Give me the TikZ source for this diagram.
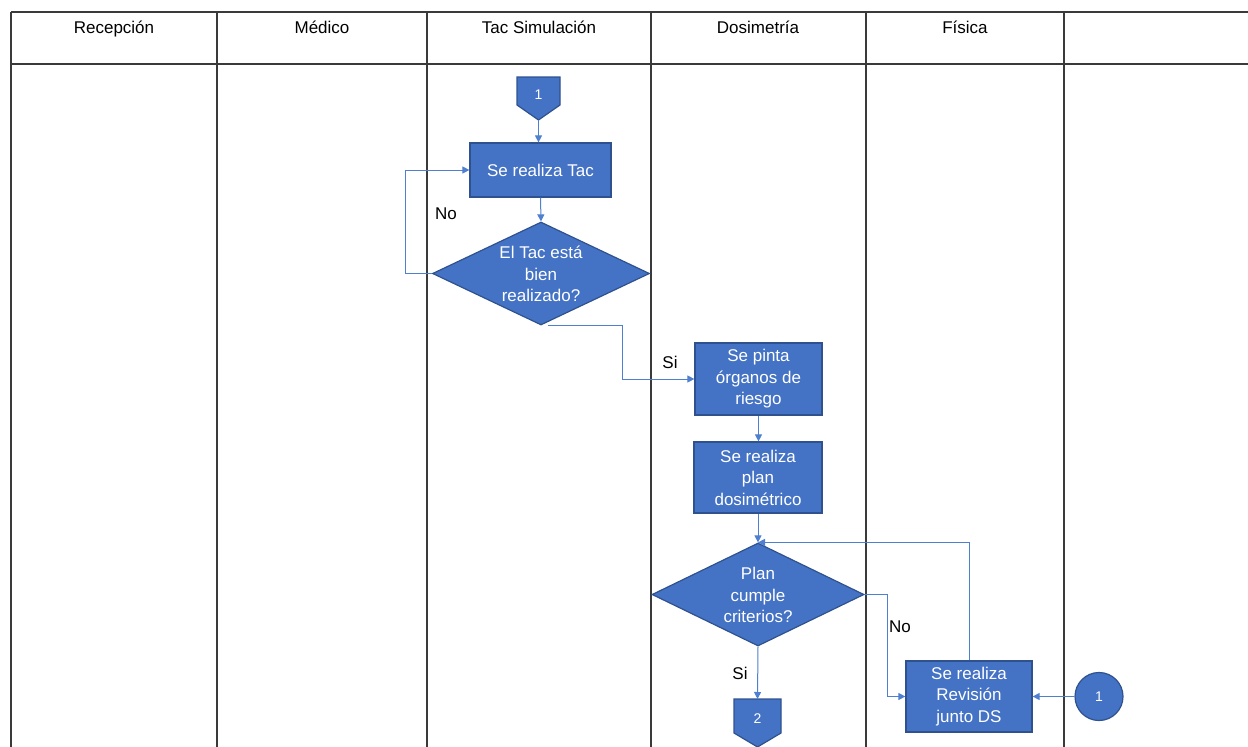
\documentclass[tikz,border=0pt]{standalone}
\usepackage{fontspec}
\setmainfont{Liberation Sans}
\usetikzlibrary{shapes.geometric,arrows.meta,calc}
\definecolor{shapeblue}{HTML}{4472C4}
\definecolor{shapeedge}{HTML}{2F528F}
\definecolor{flowblue}{HTML}{4F7FD0}
\definecolor{gridline}{HTML}{3A3A3A}
\begin{document}
\begin{tikzpicture}[x=1pt,y=-1pt,
  lane/.style={draw=gridline,line width=1.5pt},
  lanehead/.style={font=\fontsize{17}{20}\selectfont,inner sep=0pt,anchor=base},
  procbox/.style={rectangle,fill=shapeblue,draw=shapeedge,line width=1.2pt,inner sep=0pt,
    text=white,align=center,font=\fontsize{17}{21.5}\selectfont},
  decision/.style={diamond,fill=shapeblue,draw=shapeedge,line width=1.2pt,inner sep=0pt},
  shapetext/.style={text=white,align=center,font=\fontsize{17}{21.5}\selectfont,inner sep=0pt},
  pagelink/.style={fill=shapeblue,draw=shapeedge,line width=1.2pt,line join=miter},
  linktext/.style={text=white,font=\fontsize{14}{16}\selectfont,inner sep=0pt},
  flow/.style={draw=flowblue,line width=1pt,-{Triangle[length=7pt,width=7pt]}},
  flowlabel/.style={font=\fontsize{17}{20}\selectfont,inner sep=0pt}
]
\useasboundingbox (0,0) rectangle (1248,747);

% swimlane grid
\draw[lane] (11,12) -- (1248,12);
\draw[lane] (11,64) -- (1248,64);
\foreach \x in {11,217,427,651,866,1064}
  \draw[lane] (\x,12) -- (\x,747);

% lane headers
\node[lanehead] (h1) at (114,33) {Recepción};
\node[lanehead] (h2) at (322,33) {Médico};
\node[lanehead] (h3) at (539,33) {Tac Simulación};
\node[lanehead] (h4) at (758,33) {Dosimetría};
\node[lanehead] (h5) at (965,33) {Física};

% off-page connector 1 (entry)
\coordinate (c1) at (538.5,91);
\filldraw[pagelink] ($(c1)+(-21.5,-14)$) -- ($(c1)+(21.5,-14)$) -- ($(c1)+(21.5,14)$)
  -- ($(c1)+(0,29)$) -- ($(c1)+(-21.5,14)$) -- cycle;
\node[linktext] (c1t) at ($(c1)+(0,4)$) {1};
\coordinate (c1tip) at ($(c1)+(0,29)$);

% process steps
\node[procbox,minimum width=141pt,minimum height=54pt] (b1) at (540.5,170) {Se realiza Tac};
\node[decision,minimum width=217pt,minimum height=103pt] (d1) at (541,273.5) {};
\node[shapetext] (d1t) at (541,274) {El Tac está\\bien\\realizado?};

\node[procbox,minimum width=127pt,minimum height=72pt] (b2) at (758.5,379) {Se pinta\\órganos de\\riesgo};
\node[procbox,minimum width=128pt,minimum height=71pt] (b3) at (758,477.5) {Se realiza\\plan\\dosimétrico};
\node[decision,minimum width=212pt,minimum height=103pt] (d2) at (758,594.5) {};
\node[shapetext] (d2t) at (758,595) {Plan\\cumple\\criterios?};

\node[procbox,minimum width=126pt,minimum height=71pt] (b4) at (969,696.5) {Se realiza\\Revisión\\junto DS};
\node[circle,fill=shapeblue,draw=shapeedge,line width=1.2pt,minimum size=48pt,inner sep=0pt,
  text=white,font=\fontsize{14}{16}\selectfont] (k1) at (1099,696.5) {1};

% off-page connector 2 (exit)
\coordinate (c2) at (757.5,716);
\filldraw[pagelink] ($(c2)+(-23.5,-17)$) -- ($(c2)+(23.5,-17)$) -- ($(c2)+(23.5,17)$)
  -- ($(c2)+(0,31)$) -- ($(c2)+(-23.5,17)$) -- cycle;
\node[linktext] (c2t) at ($(c2)+(0,3)$) {2};
\coordinate (c2top) at ($(c2)+(0,-17)$);

% connectors
\draw[flow] (c1tip) -- (c1tip |- b1.north);
\draw[flow] (b1.south) -- (d1.north);
\draw[flow] (d1.west) -- ++(-26,0) |- (b1.west);
\node[flowlabel] (lno1) at (446,214) {No};
\draw[flow] ([xshift=7pt]d1.south) -- ++(74,0) |- (b2.west);
\node[flowlabel] (lsi1) at (670,362) {Si};
\draw[flow] (b2.south) -- (b2.south |- b3.north);
\draw[flow] (b3.south) -- (d2.north);
\draw[flow] (d2.south) -- (c2top);
\node[flowlabel] (lsi2) at (740,673) {Si};
\draw[flow] (d2.east) -- ++(23,0) |- (b4.west);
\node[flowlabel] (lno2) at (900,627) {No};
\draw[flow] (b4.north) |- (d2.north);
\draw[flow] (k1.west) -- (b4.east);
\end{tikzpicture}
\end{document}
